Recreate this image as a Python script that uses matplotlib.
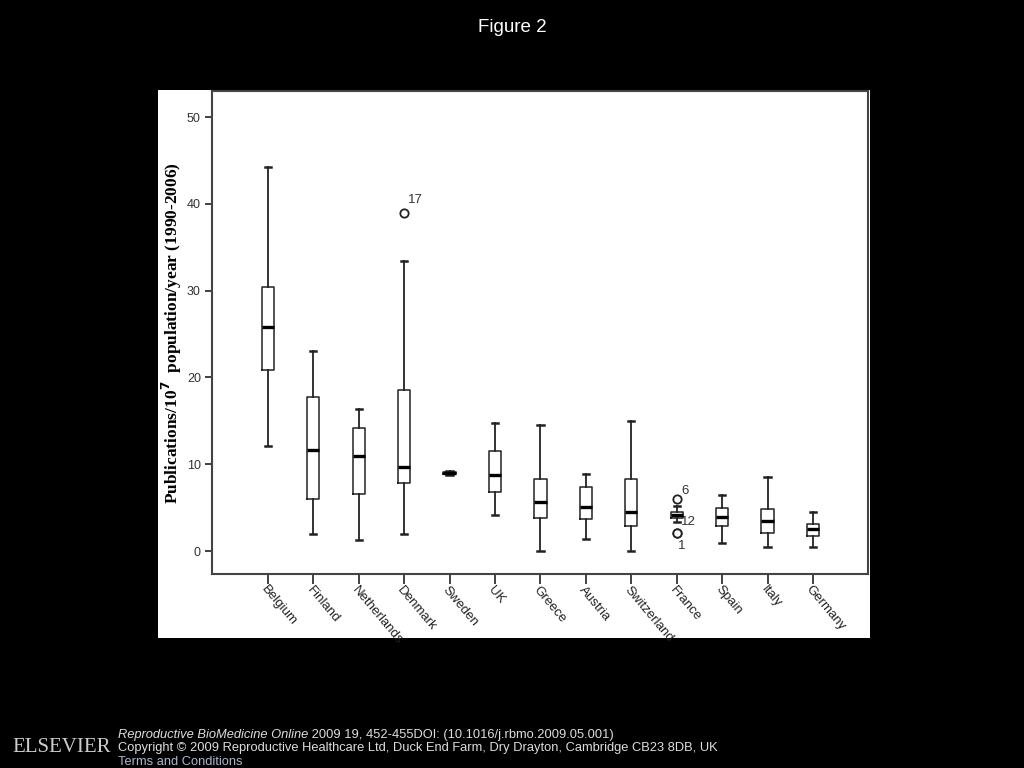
import matplotlib
matplotlib.use('Agg')
import matplotlib.pyplot as plt
from matplotlib.patches import Rectangle

# datos (por pais: bigote inf, Q1, mediana, Q3, bigote sup)
paises = ['Belgium', 'Finland', 'Netherlands', 'Denmark', 'Sweden', 'UK', 'Greece',
          'Austria', 'Switzerland', 'France', 'Spain', 'Italy', 'Germany']
bigote_inf = [12.1, 2.0, 1.3, 2.0, 8.7, 4.1, 0.0, 1.35, 0.0, 3.3, 0.9, 0.5, 0.5]
q1 = [20.8, 6.0, 6.6, 7.8, 8.85, 6.8, 3.8, 3.65, 2.9, 3.8, 2.9, 2.1, 1.75]
mediana = [25.8, 11.6, 10.9, 9.7, 8.95, 8.7, 5.6, 5.1, 4.5, 4.2, 3.9, 3.4, 2.5]
q3 = [30.4, 17.7, 14.2, 18.5, 9.05, 11.5, 8.3, 7.4, 8.3, 4.5, 4.9, 4.8, 3.1]
bigote_sup = [44.2, 23.1, 16.4, 33.4, 9.2, 14.7, 14.5, 8.9, 15.0, 5.2, 6.45, 8.5, 4.5]

# valores atipicos: (indice del pais, valor, etiqueta)
atipicos = [(3, 39.0, '17'), (9, 6.0, '6'), (9, 2.1, '12'), (9, 2.05, '1')]

fig = plt.figure(figsize=(10.24, 7.68), dpi=100, facecolor='black')

# panel blanco
fig.patches.append(Rectangle((158 / 1024, 1 - 638 / 768), (870 - 158) / 1024, (638 - 90) / 768,
                             transform=fig.transFigure, facecolor='white', edgecolor='none',
                             zorder=-10))

ax = fig.add_axes([212 / 1024, 1 - 574 / 768, (868 - 212) / 1024, (574 - 91) / 768])
ax.set_facecolor('white')

stats = []
for i, p in enumerate(paises):
    fl = [v for (k, v, e) in atipicos if k == i]
    stats.append({'label': p, 'whislo': bigote_inf[i], 'q1': q1[i], 'med': mediana[i],
                  'q3': q3[i], 'whishi': bigote_sup[i], 'fliers': fl})

ax.bxp(stats, positions=range(len(paises)), widths=0.27, showfliers=True,
       boxprops=dict(color='#222222', linewidth=1.1),
       whiskerprops=dict(color='#222222', linewidth=1.3),
       capprops=dict(color='#222222', linewidth=1.8),
       capwidths=0.14,
       medianprops=dict(color='black', linewidth=2.4),
       flierprops=dict(marker='o', markerfacecolor='white', markeredgecolor='#222222',
                       markersize=6, markeredgewidth=1.3))

# etiquetas de los atipicos
offsets = {'17': (3, 9), '6': (3, 6), '12': (3, 8), '1': (1, -9)}
for k, v, e in atipicos:
    ax.annotate(e, (k, v), xytext=offsets[e], textcoords='offset points',
                fontsize=9.5, color='#333333', family='Liberation Sans', va='center')

ax.set_xlim(-1.23, 13.21)
ax.set_ylim(-2.65, 53)
ax.set_yticks([0, 10, 20, 30, 40, 50])
ax.set_xticks(range(len(paises)))
ax.set_xticklabels(paises, rotation=-50, ha='left', va='top', rotation_mode='anchor',
                   fontsize=9.5, family='Liberation Sans', color='#222222')
for t in ax.get_yticklabels():
    t.set_family('Liberation Sans')
    t.set_fontsize(9)
    t.set_color('#333333')
ax.tick_params(axis='y', direction='out', length=5, width=1.3, color='#333333', pad=3)
ax.tick_params(axis='x', direction='out', length=7, width=1.3, color='#333333', pad=0)
for s in ax.spines.values():
    s.set_color('#444444')
    s.set_linewidth(1.5)

fig.text(172 / 1024, 1 - 333 / 768, 'Publications/10$^{\\mathbf{7}}$  population/year (1990-2006)',
         rotation=90, ha='center', va='center', fontsize=12.5, fontweight='bold',
         family='Liberation Serif', color='black')

fig.text(0.5, 1 - 27 / 768, 'Figure 2', ha='center', va='center', color='white',
         fontsize=13.5, family='Liberation Sans')

# pie de pagina
pie = dict(color='#dddddd', fontsize=9.3, family='Liberation Sans', va='center')
t1 = fig.text(118 / 1024, 1 - 735 / 768, 'Reproductive BioMedicine Online', style='italic', **pie)
fig.canvas.draw()
x_fin = t1.get_window_extent().x1 / 1024
fig.text(x_fin, 1 - 735 / 768, ' 2009 19, 452-455DOI: (10.1016/j.rbmo.2009.05.001)', **pie)
fig.text(118 / 1024, 1 - 748 / 768,
         'Copyright \u00a9 2009 Reproductive Healthcare Ltd, Duck End Farm, Dry Drayton, Cambridge CB23 8DB, UK',
         **pie)
fig.text(118 / 1024, 1 - 762 / 768, 'Terms and Conditions', color='#aab8cc', fontsize=9.3,
         family='Liberation Sans', va='center')
fig.text(62 / 1024, 1 - 748 / 768, 'ELSEVIER', color='#cccccc', fontsize=15,
         family='Liberation Serif', ha='center', va='center')

fig.savefig('out.png', dpi=100, facecolor='black')
